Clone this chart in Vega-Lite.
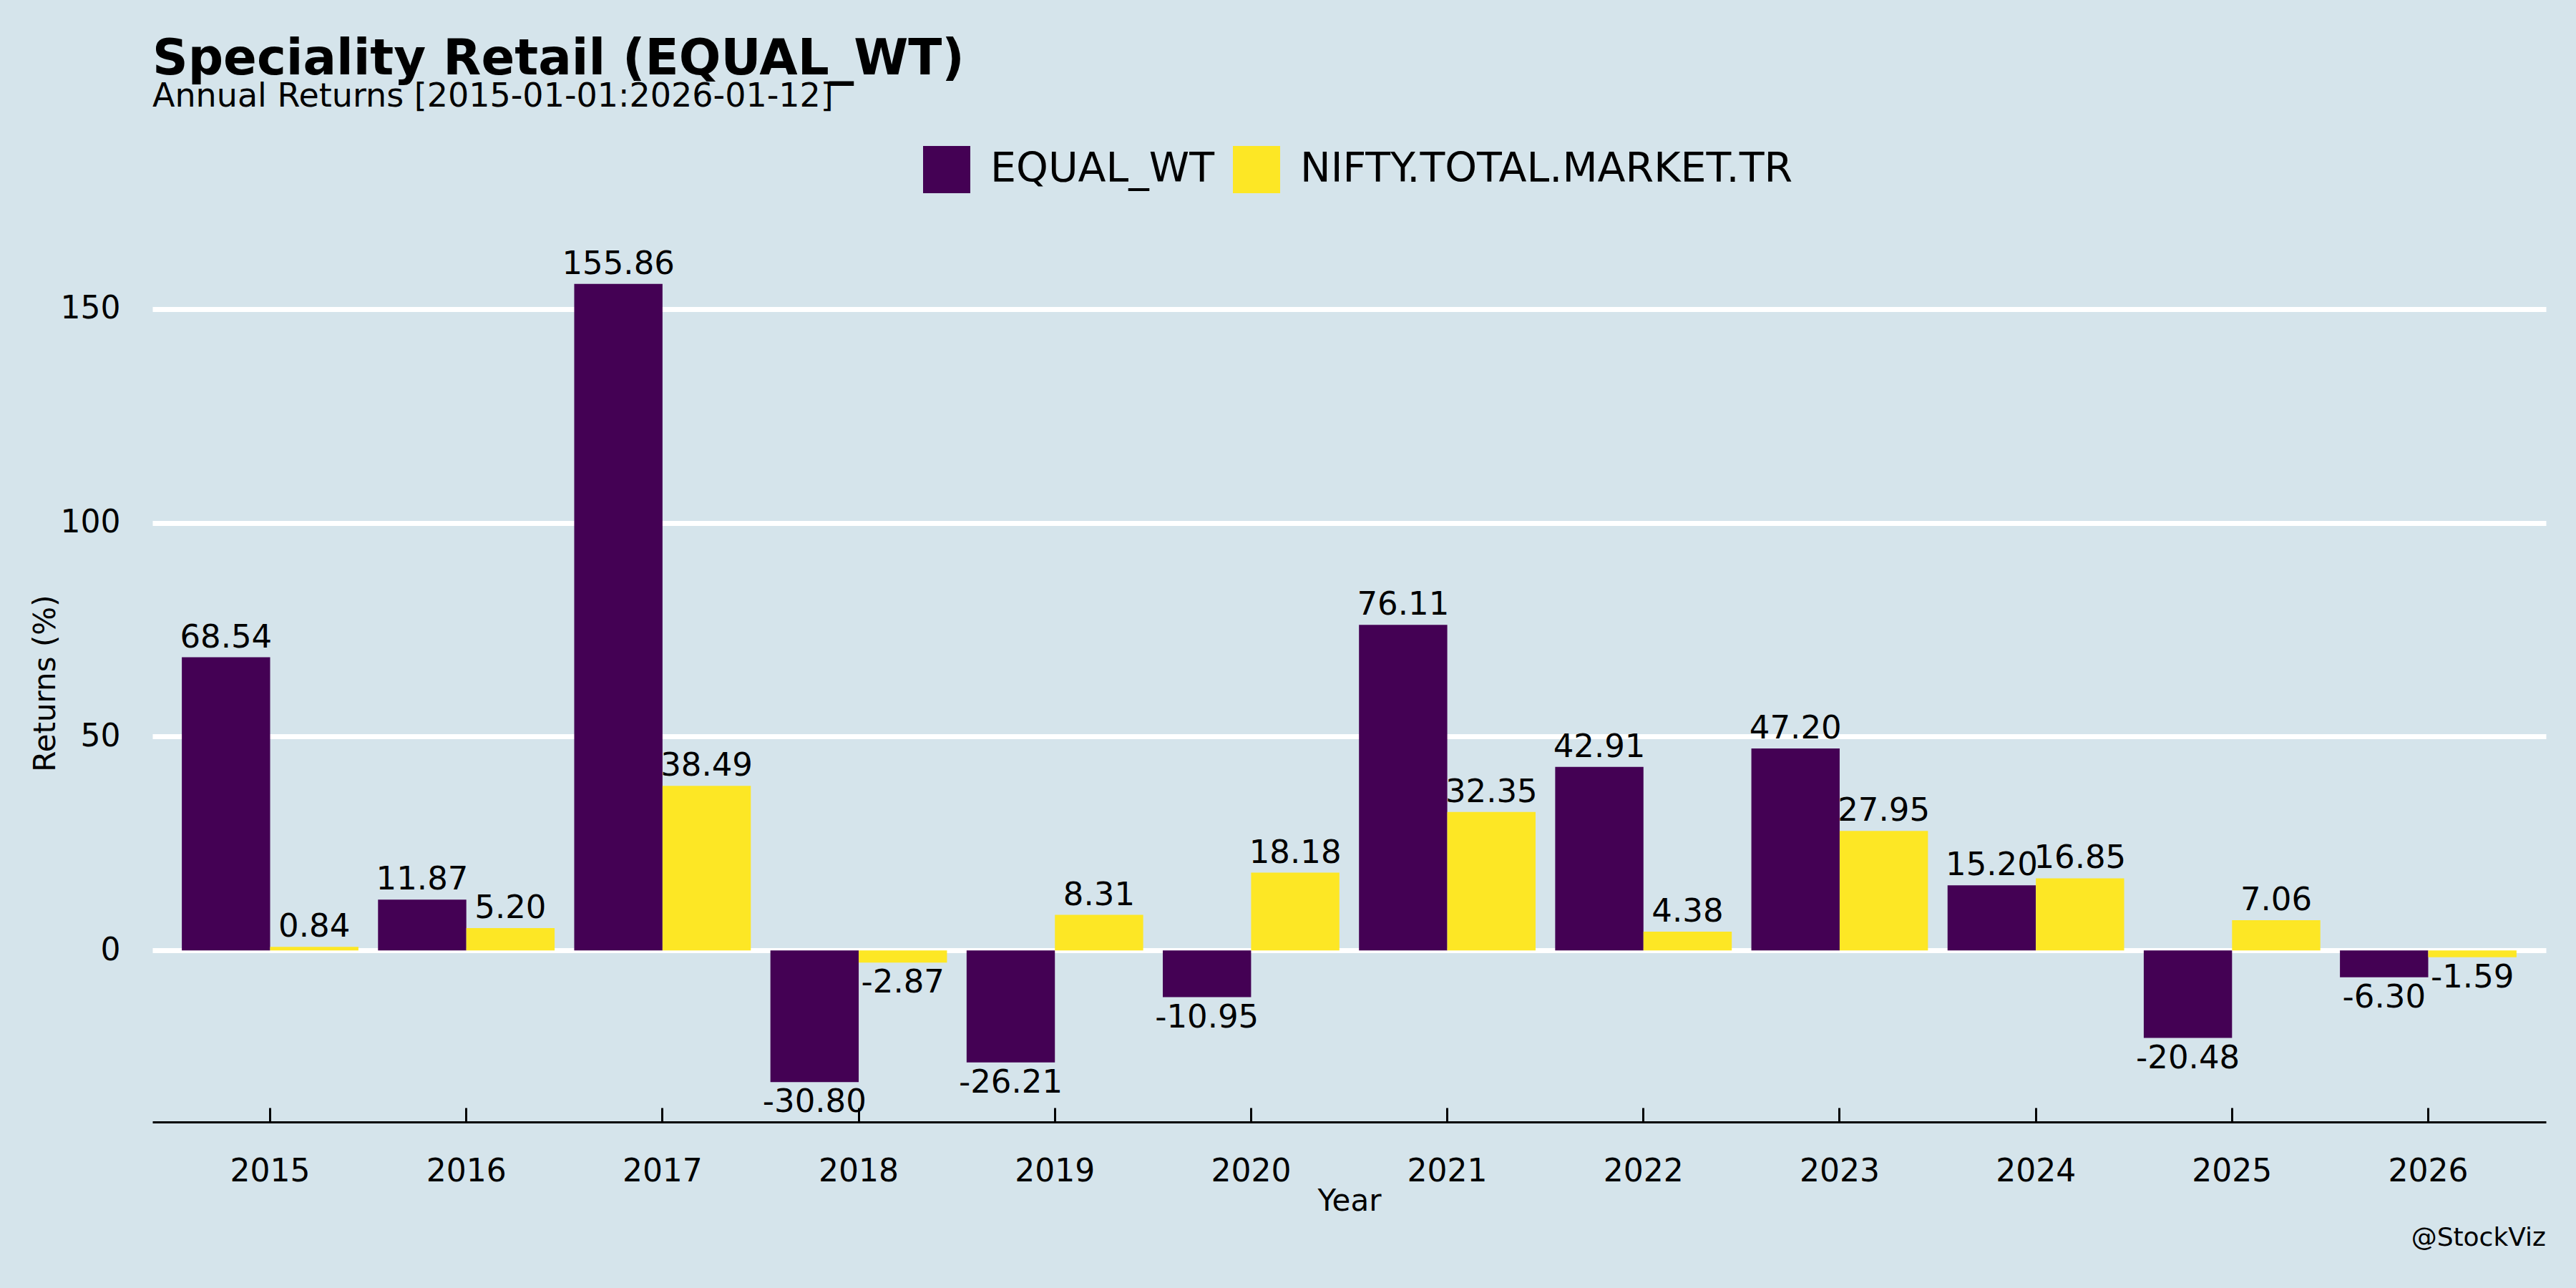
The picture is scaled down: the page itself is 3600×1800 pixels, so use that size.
{
  "$schema": "https://vega.github.io/schema/vega-lite/v6.json",
  "autosize": {"type": "none"},
  "padding": {"left": 213, "top": 341, "right": 42, "bottom": 232},
  "width": 3345,
  "height": 1227,
  "background": "#D5E4EB",
  "config": {"view": {"stroke": null}, "font": "DejaVu Sans"},
  "title": {
    "text": "Speciality Retail (EQUAL_WT)",
    "subtitle": "Annual Returns [2015-01-01:2026-01-12]",
    "anchor": "start",
    "frame": "group",
    "font": "DejaVu Sans",
    "fontSize": 69,
    "fontWeight": "bold",
    "color": "black",
    "subtitleFont": "DejaVu Sans",
    "subtitleFontSize": 46,
    "subtitleColor": "black",
    "subtitlePadding": -5,
    "offset": 46
  },
  "data": {
    "values": [
      {"year": "2015", "series": "EQUAL_WT", "value": 68.54},
      {"year": "2016", "series": "EQUAL_WT", "value": 11.87},
      {"year": "2017", "series": "EQUAL_WT", "value": 155.86},
      {"year": "2018", "series": "EQUAL_WT", "value": -30.80},
      {"year": "2019", "series": "EQUAL_WT", "value": -26.21},
      {"year": "2020", "series": "EQUAL_WT", "value": -10.95},
      {"year": "2021", "series": "EQUAL_WT", "value": 76.11},
      {"year": "2022", "series": "EQUAL_WT", "value": 42.91},
      {"year": "2023", "series": "EQUAL_WT", "value": 47.20},
      {"year": "2024", "series": "EQUAL_WT", "value": 15.20},
      {"year": "2025", "series": "EQUAL_WT", "value": -20.48},
      {"year": "2026", "series": "EQUAL_WT", "value": -6.30},
      {"year": "2015", "series": "NIFTY.TOTAL.MARKET.TR", "value": 0.84},
      {"year": "2016", "series": "NIFTY.TOTAL.MARKET.TR", "value": 5.20},
      {"year": "2017", "series": "NIFTY.TOTAL.MARKET.TR", "value": 38.49},
      {"year": "2018", "series": "NIFTY.TOTAL.MARKET.TR", "value": -2.87},
      {"year": "2019", "series": "NIFTY.TOTAL.MARKET.TR", "value": 8.31},
      {"year": "2020", "series": "NIFTY.TOTAL.MARKET.TR", "value": 18.18},
      {"year": "2021", "series": "NIFTY.TOTAL.MARKET.TR", "value": 32.35},
      {"year": "2022", "series": "NIFTY.TOTAL.MARKET.TR", "value": 4.38},
      {"year": "2023", "series": "NIFTY.TOTAL.MARKET.TR", "value": 27.95},
      {"year": "2024", "series": "NIFTY.TOTAL.MARKET.TR", "value": 16.85},
      {"year": "2025", "series": "NIFTY.TOTAL.MARKET.TR", "value": 7.06},
      {"year": "2026", "series": "NIFTY.TOTAL.MARKET.TR", "value": -1.59}
    ]
  },
  "layer": [
    {
      "mark": {"type": "bar"},
      "encoding": {
        "x": {
          "field": "year", "type": "nominal",
          "scale": {"paddingInner": 0, "paddingOuter": 0.1},
          "axis": {
            "title": "Year", "titleFontSize": 42, "titleFontWeight": "normal", "titleColor": "black", "titlePadding": -1,
            "labelAngle": 0, "labelFontSize": 44, "labelColor": "black", "labelPadding": 67,
            "domainColor": "black", "domainWidth": 3,
            "ticks": true, "tickColor": "black", "tickWidth": 3, "tickSize": -20,
            "grid": false
          }
        },
        "xOffset": {
          "field": "series", "type": "nominal",
          "scale": {"paddingInner": 0, "paddingOuter": 0.111}
        },
        "y": {
          "field": "value", "type": "quantitative",
          "scale": {"domain": [-40.13, 165.19], "nice": false, "zero": false},
          "axis": {
            "title": "Returns (%)", "titleFontSize": 42, "titleFontWeight": "normal", "titleColor": "black", "titlePadding": -1,
            "values": [0, 50, 100, 150],
            "labelFontSize": 44, "labelColor": "black", "labelPadding": 45,
            "domain": false, "ticks": false,
            "grid": true, "gridColor": "white", "gridWidth": 7, "gridOpacity": 1
          }
        },
        "color": {
          "field": "series", "type": "nominal",
          "scale": {"domain": ["EQUAL_WT", "NIFTY.TOTAL.MARKET.TR"], "range": ["#440154", "#FDE725"]},
          "legend": {
            "title": null, "orient": "none", "direction": "horizontal",
            "legendX": 1077, "legendY": -137,
            "symbolType": "square", "symbolSize": 4356, "symbolStrokeWidth": 0, "symbolOpacity": 1,
            "labelFontSize": 57, "labelColor": "black", "labelOffset": 28, "columnPadding": 25,
            "labelLimit": 2000
          }
        }
      }
    },
    {
      "transform": [{"filter": "datum.value >= 0"}],
      "mark": {"type": "text", "fontSize": 45, "color": "black", "baseline": "middle", "dy": -28,
               "text": {"expr": "replace(format(datum.value, '.2f'), '\u2212', '-')"}},
      "encoding": {
        "x": {"field": "year", "type": "nominal"},
        "xOffset": {"field": "series", "type": "nominal"},
        "y": {"field": "value", "type": "quantitative"}
      }
    },
    {
      "transform": [{"filter": "datum.value < 0"}],
      "mark": {"type": "text", "fontSize": 45, "color": "black", "baseline": "middle", "dy": 28,
               "text": {"expr": "replace(format(datum.value, '.2f'), '\u2212', '-')"}},
      "encoding": {
        "x": {"field": "year", "type": "nominal"},
        "xOffset": {"field": "series", "type": "nominal"},
        "y": {"field": "value", "type": "quantitative"}
      }
    },
    {
      "data": {"values": [{"caption": "@StockViz"}]},
      "mark": {"type": "text", "x": "width", "y": "height", "dy": 173, "align": "right", "baseline": "alphabetic", "fontSize": 36, "color": "black"},
      "encoding": {"text": {"field": "caption", "type": "nominal"}}
    }
  ]
}
